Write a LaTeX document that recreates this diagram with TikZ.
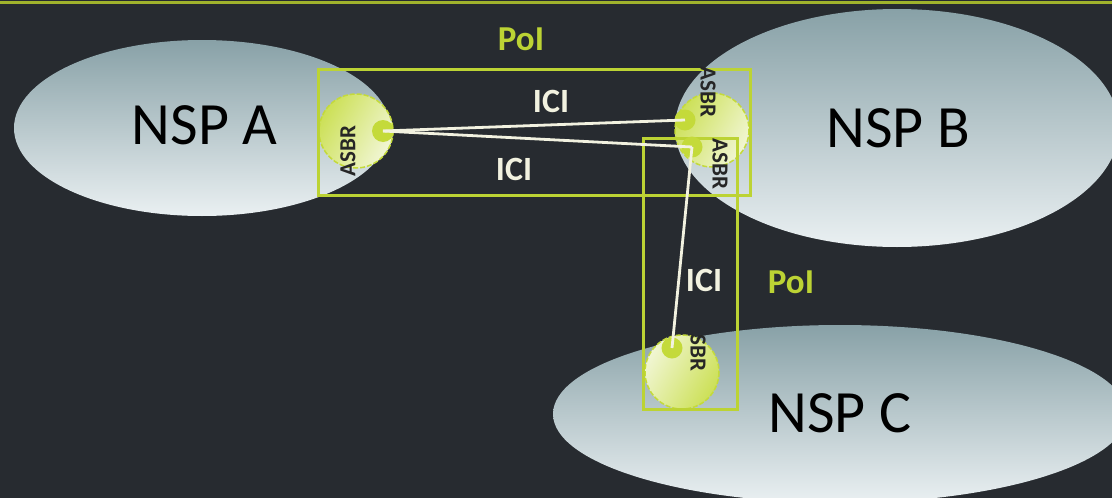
\documentclass[tikz,border=0pt]{standalone}
\usepackage{fontspec}
\setmainfont{Carlito}
\usetikzlibrary{shapes.geometric}
\definecolor{bgdark}{HTML}{272B30}
\definecolor{lime}{HTML}{BCD334}
\definecolor{limedot}{HTML}{C4DA3A}
\definecolor{cloudtop}{HTML}{88A1A7}
\definecolor{cloudbot}{HTML}{EAF0F2}
\definecolor{linkcol}{HTML}{F2F2E0}
\definecolor{ballsat}{HTML}{CCE056}
\definecolor{balllight}{HTML}{F1F6D4}
\tikzset{
  cloud/.style={top color=cloudtop, bottom color=cloudbot, draw=none},
  poibox/.style={draw=lime, line width=3pt},
  ball/.style={draw=limedot, line width=1.5pt, dash pattern=on 5pt off 2pt},
  port/.style={fill=limedot},
  link/.style={draw=linkcol, line width=2.8pt},
  nsplabel/.style={font=\fontsize{60}{60}\selectfont, text=black, anchor=base, inner sep=0pt},
  icilabel/.style={font=\fontsize{34}{34}\selectfont\bfseries, text=linkcol, anchor=base, inner sep=0pt},
  poilabel/.style={font=\fontsize{35}{35}\selectfont\bfseries, text=lime, anchor=base, inner sep=0pt},
  asbrlabel/.style={font=\fontsize{23}{23}\selectfont\bfseries, text=black!85, inner sep=0pt},
}
\begin{document}
\begin{tikzpicture}[x=1pt, y=-1pt]
  \useasboundingbox (0,0) rectangle (1112,498);
  \fill[bgdark] (0,0) rectangle (1112,498);
  \draw[lime!85!black, line width=2.5pt] (0,2.5) -- (1112,2.5);

  % provider domains
  \path[cloud] (202,128) ellipse [x radius=188, y radius=88];
  \path[cloud] (897,128) ellipse [x radius=222, y radius=119];
  \path[cloud] (840,414) ellipse [x radius=287, y radius=89];

  % border routers
  \path[ball, left color=ballsat, right color=balllight, shading angle=60] (356,131) circle [radius=37];
  \path[ball, left color=ballsat, right color=balllight, shading angle=60] (712,130) circle [radius=37];
  \path[ball, left color=balllight, right color=ballsat, shading angle=60] (682,372) circle [radius=37];

  % points of interconnection
  \node[poibox, minimum width=432pt, minimum height=126pt, inner sep=0pt] (poi1) at (534,132) {};
  \node[poibox, minimum width=94pt, minimum height=271pt, inner sep=0pt] (poi2) at (690,273.5) {};

  % router ports
  \node[port, circle, minimum size=22pt, inner sep=0pt] (pa)  at (383,131) {};
  \node[port, circle, minimum size=21pt, inner sep=0pt] (pb1) at (685,120) {};
  \node[port, circle, minimum size=21pt, inner sep=0pt] (pb2) at (692,147) {};
  \node[port, circle, minimum size=21pt, inner sep=0pt] (pc)  at (672,348) {};

  % interconnection links
  \draw[link] (pa.center) -- (pb1.center);
  \draw[link] (pa.center) -- (pb2.center);
  \draw[link] (pb2.center) -- (pc.center);

  % labels
  \node[nsplabel] (na) at (204.5,144) {NSP A};
  \node[nsplabel] (nb) at (898,147) {NSP B};
  \node[nsplabel] (nc) at (840,432) {NSP C};

  \node[icilabel] (ici1) at (551,112) {ICI};
  \node[icilabel] (ici2) at (514,180) {ICI};
  \node[icilabel] (ici3) at (704,291) {ICI};

  \node[poilabel] (poit1) at (521,50) {PoI};
  \node[poilabel] (poit2) at (791,293) {PoI};

  \node[asbrlabel, rotate=90]  (ra)  at (348,151) {ASBR};
  \node[asbrlabel, rotate=-90] (rb1) at (708,92) {ASBR};
  \node[asbrlabel, rotate=-90] (rb2) at (720,164) {ASBR};
  \node[asbrlabel, rotate=-90] (rc)  at (698,353) {SBR};
\end{tikzpicture}
\end{document}
